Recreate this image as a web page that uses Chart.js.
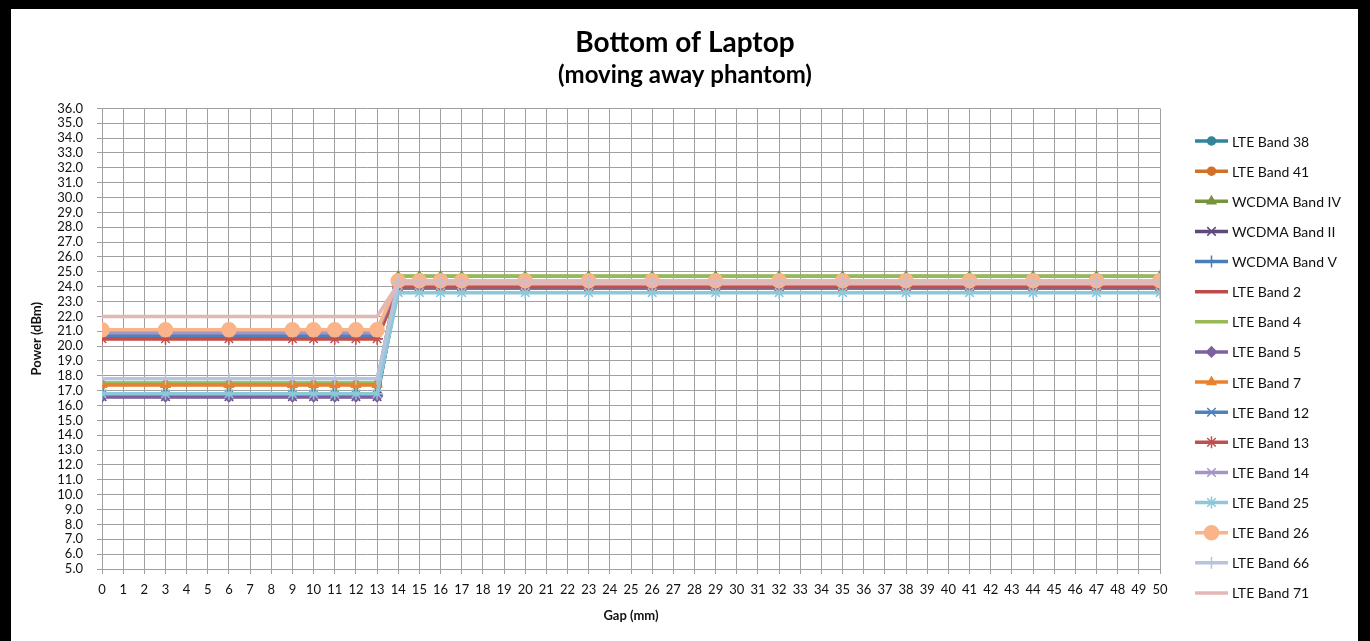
<!DOCTYPE html>
<html>
<head>
<meta charset="utf-8">
<title>Bottom of Laptop</title>
<script src="https://cdn.jsdelivr.net/npm/chart.js@4.4.1/dist/chart.umd.min.js"></script>
<style>
  html, body { margin: 0; padding: 0; background: #fff; }
  #wrap { position: relative; width: 1370px; height: 641px; }
  #frame {
    position: absolute; left: 0; top: 0; width: 1370px; height: 641px;
    box-sizing: border-box; pointer-events: none;
    border-top: 9px solid #000; border-left: 11px solid #000; border-right: 12px solid #000;
  }
</style>
</head>
<body>
<div id="wrap">
  <canvas id="myChart" width="1370" height="641"></canvas>
  <div id="frame"></div>
</div>
<script>
// measured gaps (mm)
let gaps = [0, 3, 6, 9, 10, 11, 12, 13, 14, 15, 16, 17, 20, 23, 26, 29, 32, 35, 38, 41, 44, 47, 50];

// power (dBm) per band, one value per gap
let lte38   = [16.8, 16.8, 16.8, 16.8, 16.8, 16.8, 16.8, 16.8, 24.0, 24.0, 24.0, 24.0, 24.0, 24.0, 24.0, 24.0, 24.0, 24.0, 24.0, 24.0, 24.0, 24.0, 24.0];
let lte41   = [17.4, 17.4, 17.4, 17.4, 17.4, 17.4, 17.4, 17.4, 24.4, 24.4, 24.4, 24.4, 24.4, 24.4, 24.4, 24.4, 24.4, 24.4, 24.4, 24.4, 24.4, 24.4, 24.4];
let wcdmaIV = [17.5, 17.5, 17.5, 17.5, 17.5, 17.5, 17.5, 17.5, 24.7, 24.7, 24.7, 24.7, 24.7, 24.7, 24.7, 24.7, 24.7, 24.7, 24.7, 24.7, 24.7, 24.7, 24.7];
let wcdmaII = [16.6, 16.6, 16.6, 16.6, 16.6, 16.6, 16.6, 16.6, 24.0, 24.0, 24.0, 24.0, 24.0, 24.0, 24.0, 24.0, 24.0, 24.0, 24.0, 24.0, 24.0, 24.0, 24.0];
let wcdmaV  = [16.7, 16.7, 16.7, 16.7, 16.7, 16.7, 16.7, 16.7, 23.9, 23.9, 23.9, 23.9, 23.9, 23.9, 23.9, 23.9, 23.9, 23.9, 23.9, 23.9, 23.9, 23.9, 23.9];
let lte2    = [20.5, 20.5, 20.5, 20.5, 20.5, 20.5, 20.5, 20.5, 23.9, 23.9, 23.9, 23.9, 23.9, 23.9, 23.9, 23.9, 23.9, 23.9, 23.9, 23.9, 23.9, 23.9, 23.9];
let lte4    = [17.5, 17.5, 17.5, 17.5, 17.5, 17.5, 17.5, 17.5, 24.7, 24.7, 24.7, 24.7, 24.7, 24.7, 24.7, 24.7, 24.7, 24.7, 24.7, 24.7, 24.7, 24.7, 24.7];
let lte5    = [16.6, 16.6, 16.6, 16.6, 16.6, 16.6, 16.6, 16.6, 24.0, 24.0, 24.0, 24.0, 24.0, 24.0, 24.0, 24.0, 24.0, 24.0, 24.0, 24.0, 24.0, 24.0, 24.0];
let lte7    = [17.4, 17.4, 17.4, 17.4, 17.4, 17.4, 17.4, 17.4, 24.3, 24.3, 24.3, 24.3, 24.3, 24.3, 24.3, 24.3, 24.3, 24.3, 24.3, 24.3, 24.3, 24.3, 24.3];
let lte12   = [20.7, 20.7, 20.7, 20.7, 20.7, 20.7, 20.7, 20.7, 23.9, 23.9, 23.9, 23.9, 23.9, 23.9, 23.9, 23.9, 23.9, 23.9, 23.9, 23.9, 23.9, 23.9, 23.9];
let lte13   = [20.5, 20.5, 20.5, 20.5, 20.5, 20.5, 20.5, 20.5, 24.0, 24.0, 24.0, 24.0, 24.0, 24.0, 24.0, 24.0, 24.0, 24.0, 24.0, 24.0, 24.0, 24.0, 24.0];
let lte14   = [20.9, 20.9, 20.9, 20.9, 20.9, 20.9, 20.9, 20.9, 24.3, 24.3, 24.3, 24.3, 24.3, 24.3, 24.3, 24.3, 24.3, 24.3, 24.3, 24.3, 24.3, 24.3, 24.3];
let lte25   = [16.8, 16.8, 16.8, 16.8, 16.8, 16.8, 16.8, 16.8, 23.6, 23.6, 23.6, 23.6, 23.6, 23.6, 23.6, 23.6, 23.6, 23.6, 23.6, 23.6, 23.6, 23.6, 23.6];
let lte26   = [21.1, 21.1, 21.1, 21.1, 21.1, 21.1, 21.1, 21.1, 24.4, 24.4, 24.4, 24.4, 24.4, 24.4, 24.4, 24.4, 24.4, 24.4, 24.4, 24.4, 24.4, 24.4, 24.4];
let lte66   = [17.8, 17.8, 17.8, 17.8, 17.8, 17.8, 17.8, 17.8, 24.3, 24.3, 24.3, 24.3, 24.3, 24.3, 24.3, 24.3, 24.3, 24.3, 24.3, 24.3, 24.3, 24.3, 24.3];
let lte71   = [22.0, 22.0, 22.0, 22.0, 22.0, 22.0, 22.0, 22.0, 24.2, 24.2, 24.2, 24.2, 24.2, 24.2, 24.2, 24.2, 24.2, 24.2, 24.2, 24.2, 24.2, 24.2, 24.2];

// label, values, colour, marker, marker radius
let series = [
  ['LTE Band 38', lte38, '#31849B', 'circle', 4],
  ['LTE Band 41', lte41, '#D2702A', 'circle', 4],
  ['WCDMA Band IV', wcdmaIV, '#77933C', 'triangle', 5],
  ['WCDMA Band II', wcdmaII, '#604A7B', 'crossRot', 6],
  ['WCDMA Band V', wcdmaV, '#4A7EBB', 'cross', 6],
  ['LTE Band 2', lte2, '#BE4B48', 'circle', 0],
  ['LTE Band 4', lte4, '#98B954', 'circle', 0],
  ['LTE Band 5', lte5, '#7D60A0', 'rectRot', 5],
  ['LTE Band 7', lte7, '#E8822E', 'triangle', 5],
  ['LTE Band 12', lte12, '#4F81BD', 'crossRot', 6],
  ['LTE Band 13', lte13, '#C0504D', 'star', 6],
  ['LTE Band 14', lte14, '#A595C4', 'crossRot', 6],
  ['LTE Band 25', lte25, '#8CC8DA', 'star', 6],
  ['LTE Band 26', lte26, '#F9B48A', 'circle', 7],
  ['LTE Band 66', lte66, '#B7C4DF', 'cross', 6],
  ['LTE Band 71', lte71, '#E3B7B6', 'circle', 0],
];

let datasets = series.map(function (s, i) {
  return {
    label: s[0],
    data: gaps.map(function (g, j) { return { x: g, y: s[1][j] }; }),
    borderColor: s[2],
    backgroundColor: s[2],
    borderWidth: 3.5,
    pointStyle: s[3],
    pointRadius: s[4],
    pointHoverRadius: s[4],
    pointBackgroundColor: s[2],
    pointBorderColor: s[2],
    pointBorderWidth: 1.5,
    tension: 0,
    order: -i,
  };
});

// legend on the right: line with the marker in its middle
let sideLegend = {
  id: 'sideLegend',
  afterDraw(chart) {
    let ctx = chart.ctx;
    chart.data.datasets.forEach(function (ds, i) {
      let y = 141 + i * 30.13;
      let x0 = 1195;
      let x1 = 1228;
      ctx.save();
      ctx.strokeStyle = ds.borderColor;
      ctx.lineWidth = ds.borderWidth;
      ctx.beginPath();
      ctx.moveTo(x0, y);
      ctx.lineTo(x1, y);
      ctx.stroke();
      if (ds.pointRadius > 0) {
        ctx.fillStyle = ds.pointBackgroundColor;
        ctx.strokeStyle = ds.pointBorderColor;
        ctx.lineWidth = ds.pointBorderWidth;
        Chart.helpers.drawPoint(ctx, {
          pointStyle: ds.pointStyle,
          radius: ds.pointRadius,
          rotation: 0,
          borderWidth: ds.pointBorderWidth,
        }, (x0 + x1) / 2, y);
      }
      ctx.fillStyle = '#111';
      ctx.font = '14px Lato';
      ctx.textBaseline = 'middle';
      ctx.textAlign = 'left';
      ctx.fillText(ds.label, 1232, y + 1);
      ctx.restore();
    });
  },
};

let gridColor = '#a0a0a0';

let ctx = document.getElementById('myChart').getContext('2d');
let myChart = new Chart(ctx, {
  type: 'line',
  data: { datasets: datasets },
  plugins: [sideLegend],
  options: {
    responsive: false,
    animation: false,
    spanGaps: true,
    layout: { padding: { left: 12, top: 12, right: 12, bottom: 12 } },
    plugins: {
      legend: { display: false },
      tooltip: { enabled: false },
      title: {
        display: true,
        text: 'Bottom of Laptop',
        color: '#000',
        font: { family: 'Lato', size: 28, weight: 'bold' },
        padding: { top: 14, bottom: 0 },
      },
      subtitle: {
        display: true,
        text: '(moving away phantom)',
        color: '#000',
        font: { family: 'Lato', size: 24, weight: 'bold' },
        padding: { top: 1, bottom: 19 },
      },
    },
    scales: {
      x: {
        type: 'linear',
        min: 0,
        max: 50,
        afterFit(scale) { scale.height = 60; },
        ticks: {
          stepSize: 1,
          autoSkip: false,
          maxRotation: 0,
          padding: 8,
          color: '#111',
          font: { family: 'Lato', size: 13 },
        },
        grid: { color: gridColor, tickLength: 5, lineWidth: 1 },
        border: { color: gridColor },
        title: {
          display: true,
          text: 'Gap (mm)',
          color: '#111',
          font: { family: 'Lato', size: 13, weight: 'bold' },
          padding: { top: 4, bottom: 5 },
        },
      },
      y: {
        min: 5,
        max: 36,
        afterFit(scale) { scale.width = 90; },
        ticks: {
          stepSize: 1,
          autoSkip: false,
          padding: 14,
          color: '#111',
          font: { family: 'Lato', size: 13 },
          callback: function (v) { return v.toFixed(1); },
        },
        grid: { color: gridColor, tickLength: 5, lineWidth: 1 },
        border: { color: gridColor },
        title: {
          display: true,
          text: 'Power (dBm)',
          color: '#111',
          font: { family: 'Lato', size: 13, weight: 'bold' },
          padding: { top: 17, bottom: 4 },
        },
      },
      // empty right-hand scale that only keeps room for the legend
      side: {
        type: 'linear',
        position: 'right',
        min: 0,
        max: 1,
        afterFit(scale) { scale.width = 198; },
        ticks: { display: false },
        grid: { display: false, drawOnChartArea: false },
        border: { display: false },
      },
    },
  },
});
</script>
</body>
</html>
